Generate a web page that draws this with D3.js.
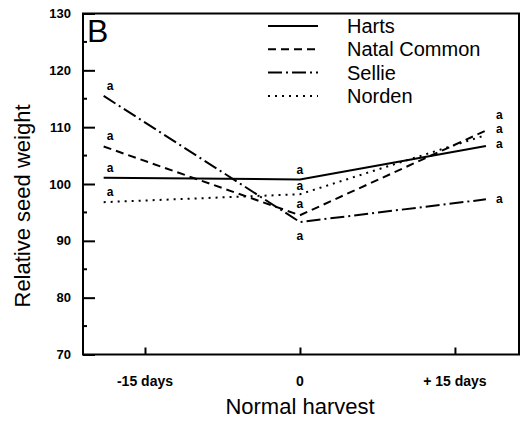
<!DOCTYPE html>
<html><head><meta charset="utf-8">
<script src="https://cdn.jsdelivr.net/npm/d3@7"></script>
<style>body{margin:0;background:#fff}svg{display:block}text{font-family:"Liberation Sans",Arial,sans-serif;fill:#000}</style>
</head><body><svg id="c" width="527" height="422"></svg>
<script>
const days = [-19, 0, 18];
const xTickValues = [-15, 0, 15];
const xTickLabels = ["-15 days", "0", "+ 15 days"];
const yTicks = [70, 80, 90, 100, 110, 120, 130];
const seriesNames = ["Harts", "Natal Common", "Sellie", "Norden"];
const harts = [101.1, 100.8, 106.7];
const natal = [106.6, 94.5, 109.4];
const sellie = [115.5, 93.3, 97.3];
const norden = [96.8, 98.2, 108.6];
const letters = ["a", "a", "a"];

const svg = d3.select("#c");
const L = 83, R = 519, T = 13.5, B = 354.5;
const x = d3.scaleLinear().domain([-21, 21.2]).range([L, R]);
const y = d3.scaleLinear().domain([70, 130]).range([B, T]);

const dashes = ["none", "8,5", "14,4,2,4", "2,5"];
const data = [harts, natal, sellie, norden];

// frame
svg.append("rect").attr("x", L).attr("y", T).attr("width", R - L).attr("height", B - T)
  .attr("fill", "none").attr("stroke", "#000").attr("stroke-width", 2);

// y axis ticks (inward)
const yAx = svg.append("g").attr("transform", `translate(${L},0)`)
  .call(d3.axisRight(y).tickValues(yTicks).tickSize(12).tickFormat(""));
yAx.select(".domain").remove();
yAx.selectAll("line").attr("stroke-width", 2);
const minor = d3.range(75, 130, 10);
svg.append("g").selectAll("line").data(minor).join("line")
  .attr("x1", L).attr("x2", L + 4).attr("y1", d => y(d)).attr("y2", d => y(d))
  .attr("stroke", "#000").attr("stroke-width", 2);
svg.append("g").selectAll("text").data(yTicks).join("text")
  .attr("x", 71).attr("y", d => y(d) + 4.5).attr("text-anchor", "end")
  .attr("font-size", 13).attr("font-weight", "bold").text(d => d);

// x axis ticks (inward)
const xAx = svg.append("g").attr("transform", `translate(0,${B})`)
  .call(d3.axisTop(x).tickValues(xTickValues).tickSize(7).tickFormat(""));
xAx.select(".domain").remove();
xAx.selectAll("line").attr("stroke-width", 2);
svg.append("g").selectAll("text").data(xTickValues).join("text")
  .attr("x", d => x(d)).attr("y", 386).attr("text-anchor", "middle")
  .attr("font-size", 14).attr("font-weight", "bold").text((d, i) => xTickLabels[i]);

// titles
svg.append("text").attr("x", 300).attr("y", 414).attr("text-anchor", "middle")
  .attr("font-size", 22).text("Normal harvest");
svg.append("text").attr("transform", "translate(30,206) rotate(-90)").attr("text-anchor", "middle")
  .attr("font-size", 22).text("Relative seed weight");
svg.append("text").attr("x", 87).attr("y", 42).attr("font-size", 32).text("B");

// lines
const line = d3.line().x((d, i) => x(days[i])).y(d => y(d));
data.forEach((s, k) => {
  svg.append("path").datum(s).attr("d", line).attr("fill", "none")
    .attr("stroke", "#000").attr("stroke-width", 2).attr("stroke-dasharray", dashes[k]);
});

// significance letters (order: Harts, Natal, Sellie, Norden)
const lab = svg.append("g").attr("font-size", 12).attr("font-weight", "bold");
const offMid = [-5, -7, 18, -4];
const offRight = [2, -12, 4, -2];
data.forEach((s, k) => {
  s.forEach((v, i) => {
    let px = x(days[i]), py = y(v);
    if (i === 0) { px += 3; py -= 6; }
    else if (i === 1) { py += offMid[k]; }
    else { px += 10; py += offRight[k]; }
    lab.append("text").attr("x", px).attr("y", py)
      .attr("text-anchor", i === 1 ? "middle" : "start").text(letters[i]);
  });
});

// legend
const lg = svg.append("g");
seriesNames.forEach((n, k) => {
  const ly = 26 + k * 23.3;
  lg.append("line").attr("x1", 268).attr("x2", 318).attr("y1", ly).attr("y2", ly)
    .attr("stroke", "#000").attr("stroke-width", 2).attr("stroke-dasharray", dashes[k]);
  lg.append("text").attr("x", 347).attr("y", ly + 7).attr("font-size", 20).text(n);
});
</script></body></html>
